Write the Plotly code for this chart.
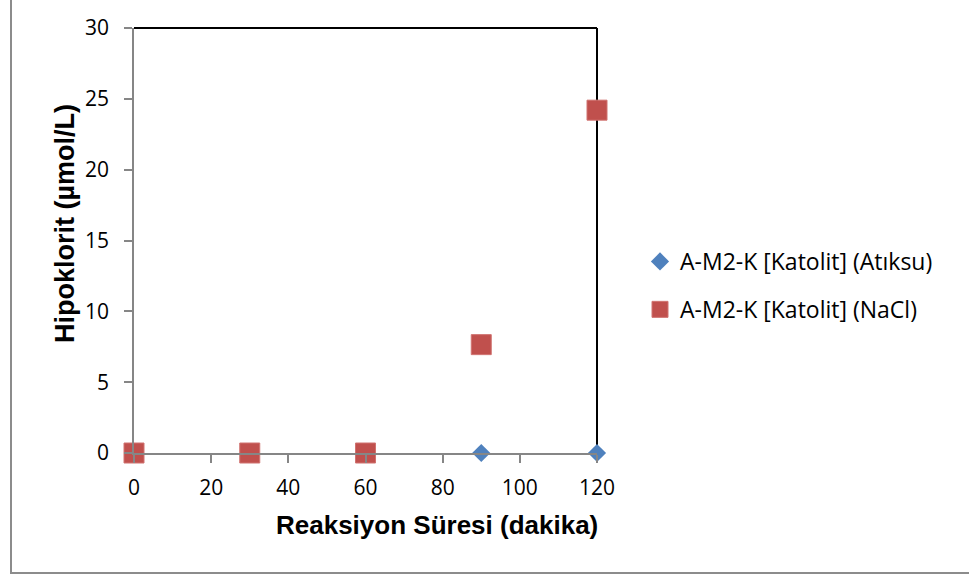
import plotly.graph_objects as go

# Reaction time (minutes) and hypochlorite concentration (µmol/L)
sure_dakika = [0, 30, 60, 90, 120]
atiksu = [0, 0, 0, 0, 0]
nacl = [0, 0, 0, 7.65, 24.2]

seri_adlari = ["A-M2-K [Katolit] (Atıksu)", "A-M2-K [Katolit] (NaCl)"]
x_ticks = [0, 20, 40, 60, 80, 100, 120]
y_ticks = [0, 5, 10, 15, 20, 25, 30]

W, H = 969, 578
L, R, T, B = 134, 597, 28, 453  # plot-area edges in pixels


def px_x(p):
    return (p - L) / (R - L)


def px_y(p):
    return (B - p) / (B - T)


tick_font = dict(family="Open Sans, Lato, sans-serif", size=21, color="#000000")
title_font_x = dict(family="Liberation Sans, Arial, sans-serif", size=26, color="#000000")
title_font_y = dict(family="Liberation Sans, Arial, sans-serif", size=27, color="#000000")

fig = go.Figure()
fig.add_trace(go.Scatter(
    x=sure_dakika, y=atiksu, mode="markers", name=seri_adlari[0],
    legendgroup="a",
    marker=dict(symbol="diamond", size=14, color="#4F81BD", line=dict(width=0)),
    cliponaxis=False,
))
fig.add_trace(go.Scatter(
    x=sure_dakika, y=nacl, mode="markers", name=seri_adlari[1],
    legendgroup="b",
    marker=dict(symbol="square", size=20, color="#C0504D",
                line=dict(width=1, color="#D07370")),
    cliponaxis=False,
))

axis_common = dict(
    showgrid=False, zeroline=False, showline=True, linecolor="#868686",
    linewidth=1.5, ticks="outside", tickcolor="#868686", ticklen=8,
    tickwidth=1.5, tickfont=tick_font,
)

fig.update_xaxes(range=[0, 120], tickvals=x_ticks, ticklabelstandoff=7, **axis_common)
fig.update_yaxes(range=[0, 30], tickvals=y_ticks, ticklabelstandoff=11, **axis_common)

fig.update_layout(
    width=W, height=H,
    margin=dict(l=L, r=W - R, t=T, b=H - B, pad=0),
    paper_bgcolor="#FFFFFF", plot_bgcolor="#FFFFFF",
    showlegend=True,
    legend=dict(
        x=px_x(640), y=px_y(240), xanchor="left", yanchor="top",
        font=dict(family="Open Sans, Lato, sans-serif", size=23, color="#000000"),
        traceorder="grouped", tracegroupgap=15, bgcolor="rgba(0,0,0,0)",
        itemwidth=30,
    ),
    shapes=[
        # outer chart frame
        dict(type="rect", xref="paper", yref="paper",
             x0=px_x(11), x1=px_x(990), y0=px_y(573), y1=px_y(-10),
             line=dict(color="#8C8C8C", width=2), layer="below"),
        # top and right plot borders
        dict(type="line", xref="paper", yref="paper", x0=0, x1=1, y0=1, y1=1,
             line=dict(color="#000000", width=2), layer="below"),
        dict(type="line", xref="paper", yref="paper", x0=1, x1=1, y0=0, y1=1,
             line=dict(color="#000000", width=2), layer="below"),
    ],
    annotations=[
        dict(text="<b>Reaksiyon Süresi (dakika)</b>", xref="paper", yref="paper",
             x=px_x(437), y=px_y(525), xanchor="center", yanchor="middle",
             showarrow=False, font=title_font_x),
        dict(text="<b>Hipoklorit (µmol/L)</b>", xref="paper", yref="paper",
             x=px_x(65), y=px_y(224), xanchor="center", yanchor="middle",
             textangle=-90, showarrow=False, font=title_font_y),
    ],
)

fig.write_html("out.html")
